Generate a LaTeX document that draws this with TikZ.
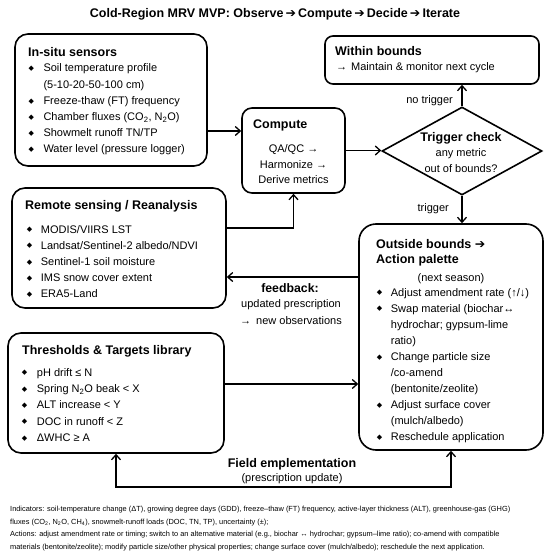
\documentclass[tikz,border=0pt]{standalone}
\usepackage{fontspec}
\setmainfont{Liberation Sans}
\newfontfamily\djv{DejaVu Sans}
\usetikzlibrary{arrows.meta,shapes.geometric,calc}
\newlength\bw
\newcommand\bul{\makebox[\bw][l]{\raisebox{1.3pt}{\djv\fontsize{7}{7}\selectfont ◆}}}
\newcommand\cnt{\hspace*{\bw}}
\newcommand\harr{{\djv ➔}}
\tikzset{
  box/.style={draw, line width=1.6pt, rounded corners=#1, inner sep=0pt},
  ttl/.style={anchor=base west, inner sep=0pt, font=\fontsize{12.5}{15}\selectfont\bfseries},
  lst/.style={anchor=base west, inner sep=0pt, font=\fontsize{11}{16.2}\selectfont},
  txt/.style={anchor=base, inner sep=0pt, font=\fontsize{11}{16}\selectfont},
  arr/.style={line width=1.3pt, -{Straight Barb[length=5pt,width=9pt,line width=1.3pt]}},
  darr/.style={line width=1.3pt, {Straight Barb[length=5pt,width=9pt,line width=1.3pt]}-{Straight Barb[length=5pt,width=9pt,line width=1.3pt]}},
}
\begin{document}
\begin{tikzpicture}[x=1pt,y=-1pt]
\useasboundingbox[fill=white] (0,0) rectangle (550,559);

% title
\node[anchor=base, inner sep=0pt, font=\fontsize{12.5}{15}\selectfont\bfseries] (title) at (275,17.5)
  {Cold-Region MRV MVP: Observe\,\harr\,Compute\,\harr\,Decide\,\harr\,Iterate};

% boxes
\node[box=13pt, minimum width=192pt, minimum height=132pt] (insitu) at (111,100) {};
\node[box=10pt, minimum width=103pt, minimum height=85pt] (compute) at (293.5,150.5) {};
\node[box=8pt, minimum width=214pt, minimum height=48pt] (within) at (432,60) {};
\node[draw, diamond, line width=1.6pt, inner sep=0pt, minimum width=160pt, minimum height=88pt] (diam) at (462,151) {};
\node[box=13pt, minimum width=214pt, minimum height=120pt] (remote) at (119,248) {};
\node[box=17pt, minimum width=184pt, minimum height=226pt] (outside) at (451,337) {};
\node[box=13pt, minimum width=216pt, minimum height=120pt] (thr) at (116,393) {};

% in-situ
\node[ttl] (insitu-t) at (28,56.5) {In-situ sensors};
\node[lst] (insitu-l) at (28.3,72) {\setlength\bw{15pt}\begin{tabular}[t]{@{}l@{}}
\bul Soil temperature profile\\
\cnt (5-10-20-50-100 cm)\\
\bul Freeze-thaw (FT) frequency\\
\bul Chamber fluxes (CO\textsubscript{2}, N\textsubscript{2}O)\\
\bul Showmelt runoff TN/TP\\
\bul Water level (pressure logger)
\end{tabular}};

% compute
\node[ttl] (compute-t) at (253,128.5) {Compute};
\node[txt] (compute-l) at (293.5,152) {\begin{tabular}[t]{@{}c@{}}
QA/QC →\\ Harmonize →\\ Derive metrics\end{tabular}};

% within
\node[ttl] (within-t) at (335,55.5) {Within bounds};
\node[lst] (within-l) at (336,71) {→\hspace{4pt}Maintain \& monitor next cycle};

% diamond
\node[txt, font=\fontsize{12.5}{15}\selectfont\bfseries] (diam-t) at (461,141.5) {Trigger check};
\node[txt] (diam-l) at (461,157) {\begin{tabular}[t]{@{}c@{}}any metric\\ out of bounds?\end{tabular}};

% remote
\node[ttl] (remote-t) at (25,209.5) {Remote sensing / Reanalysis};
\node[lst] (remote-l) at (26.7,233) {\setlength\bw{14pt}\begin{tabular}[t]{@{}l@{}}
\bul MODIS/VIIRS LST\\
\bul Landsat/Sentinel-2 albedo/NDVI\\
\bul Sentinel-1 soil moisture\\
\bul IMS snow cover extent\\
\bul ERA5-Land
\end{tabular}};

% outside
\node[ttl] (outside-t) at (376,248.8) {Outside bounds \harr};
\node[ttl] (outside-t2) at (376,263.8) {Action palette};
\node[txt] (outside-n) at (451,281) {(next season)};
\node[lst, font=\fontsize{11}{16.1}\selectfont] (outside-l) at (376.7,296) {\setlength\bw{14pt}\begin{tabular}[t]{@{}l@{}}
\bul Adjust amendment rate (↑/↓)\\
\bul Swap material (biochar↔\\
\cnt hydrochar; gypsum-lime\\
\cnt ratio)\\
\bul Change particle size\\
\cnt /co-amend\\
\cnt (bentonite/zeolite)\\
\bul Adjust surface cover\\
\cnt (mulch/albedo)\\
\bul Reschedule application
\end{tabular}};

% thresholds
\node[ttl] (thr-t) at (22,354.5) {Thresholds \& Targets library};
\node[lst, font=\fontsize{11}{16.4}\selectfont] (thr-l) at (21.7,376) {\setlength\bw{15pt}\begin{tabular}[t]{@{}l@{}}
\bul pH drift ≤ N\\
\bul Spring N\textsubscript{2}O beak < X\\
\bul ALT increase < Y\\
\bul DOC in runoff < Z\\
\bul ΔWHC ≥ A
\end{tabular}};

% connectors
\coordinate (a1) at ([yshift=-31pt]insitu.east);
\draw[arr] (a1) -- (a1 -| compute.west);
\draw[arr] (compute.east) -- (compute.east -| diam.west);
\draw[arr] (diam.north) -- (diam.north |- within.south);
\node[txt, anchor=base east] (lbl-no) at (453,103) {no trigger};
\draw[arr] (diam.south) -- (diam.south |- outside.north);
\node[txt, anchor=base east] (lbl-tr) at (449,211) {trigger};
\coordinate (a5) at ([yshift=20pt]remote.east);
\draw[arr] (a5) -| (compute.south);
\coordinate (fb) at ([yshift=-29pt]remote.east);
\draw[arr] (fb -| outside.west) -- (fb);
\node[txt, font=\fontsize{12.3}{15}\selectfont\bfseries] (fb-t) at (290,292.5) {feedback:};
\node[txt] (fb-l) at (291,307) {\begin{tabular}[t]{@{}c@{}}updated prescription\\[1pt] →\hspace{5pt}new observations\end{tabular}};
\coordinate (th) at ([yshift=9pt]thr.east);
\draw[arr] (th) -- (th -| outside.west);
\coordinate (bot) at (0,487);
\draw[darr] (thr.south) -- (thr.south |- bot) -- (outside.south |- bot) -- (outside.south);
\node[txt, font=\fontsize{12.5}{15}\selectfont\bfseries] (fe-t) at (292,467.5) {Field emplementation};
\node[txt] (fe-l) at (292,481) {(prescription update)};

% footnote
\node[anchor=base west, inner sep=0pt, font=\fontsize{7.4}{12.5}\selectfont] (foot) at (10,511.5) {\begin{tabular}[t]{@{}l@{}}
Indicators: soil-temperature change (ΔT), growing degree days (GDD), freeze–thaw (FT) frequency, active-layer thickness (ALT), greenhouse-gas (GHG)\\
fluxes (CO\textsubscript{2}, N\textsubscript{2}O, CH\textsubscript{4}), snowmelt-runoff loads (DOC, TN, TP), uncertainty (±);\\
Actions: adjust amendment rate or timing; switch to an alternative material (e.g., biochar ↔ hydrochar; gypsum–lime ratio); co-amend with compatible\\
materials (bentonite/zeolite); modify particle size/other physical properties; change surface cover (mulch/albedo); reschedule the next application.
\end{tabular}};
\end{tikzpicture}
\end{document}
